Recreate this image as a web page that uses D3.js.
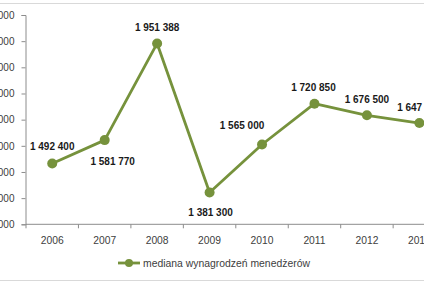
<!DOCTYPE html>
<html>
<head>
<meta charset="utf-8">
<script src="https://cdn.jsdelivr.net/npm/d3@7"></script>
<style>
  html, body { margin: 0; padding: 0; background: #fff; }
  svg { display: block; }
</style>
</head>
<body>
<svg id="chart" width="424" height="285"></svg>
<script>
// ---- data ----
const years = ["2006", "2007", "2008", "2009", "2010", "2011", "2012", "2013"];
const medianSalary = [1492400, 1581770, 1951388, 1381300, 1565000, 1720850, 1676500, 1647000];
const yTickValues = [1260000, 1360000, 1460000, 1560000, 1660000, 1760000, 1860000, 1960000, 2060000];
const seriesName = "mediana wynagrodzeń menedżerów";

// label placement (offsets of label centre relative to point)
const labelOffsets = [[0, -17], [8, 21], [0, -16], [1, 20], [-20, -19], [-1, -16], [0, -16], [0, -16]];

const svg = d3.select("#chart");
const W = 424, H = 285;
const color = "#76923C";
const axisColor = "#8c8c8c";

const plotLeft = 26, plotTop = 15, plotBottom = 224.3, bandW = 52.45;

const loc = d3.formatLocale({ decimal: ",", thousands: "\u00a0", grouping: [3], currency: ["", ""] });
const fmt = loc.format(",d");

const x = d3.scaleBand().domain(years).range([plotLeft, plotLeft + bandW * years.length]).paddingInner(0).paddingOuter(0);
const y = d3.scaleLinear().domain([d3.min(yTickValues), d3.max(yTickValues)]).range([plotBottom, plotTop]);

// frame lines
svg.append("line").attr("x1", 0).attr("x2", W).attr("y1", 3.5).attr("y2", 3.5).attr("stroke", "#d9d9d9");
svg.append("line").attr("x1", 0).attr("x2", W).attr("y1", 280.5).attr("y2", 280.5).attr("stroke", "#d9d9d9");

// y axis
const yAxis = svg.append("g").attr("transform", `translate(${plotLeft - 0.5},0)`)
  .call(d3.axisLeft(y).tickValues(yTickValues).tickSize(4).tickPadding(7).tickFormat(fmt));
yAxis.select(".domain").attr("stroke", axisColor);
yAxis.selectAll(".tick line").attr("stroke", axisColor);
yAxis.selectAll("text").attr("fill", "#404040").style("font-family", "Liberation Sans, Arial, sans-serif").style("font-size", "10px");

// x axis
const xAxis = svg.append("g").attr("transform", `translate(0,${plotBottom})`);
xAxis.append("line").attr("x1", plotLeft).attr("x2", x.range()[1]).attr("y1", 0).attr("y2", 0).attr("stroke", axisColor);
xAxis.selectAll("line.tk").data(years.concat(["end"])).enter().append("line")
  .attr("class", "tk")
  .attr("x1", (d, i) => plotLeft + x.step() * i)
  .attr("x2", (d, i) => plotLeft + x.step() * i)
  .attr("y1", 0).attr("y2", 4).attr("stroke", axisColor);
xAxis.selectAll("text").data(years).enter().append("text")
  .attr("x", d => x(d) + x.bandwidth() / 2)
  .attr("y", 19.5)
  .attr("text-anchor", "middle")
  .attr("fill", "#404040")
  .style("font-family", "Liberation Sans, Arial, sans-serif")
  .style("font-size", "10.3px")
  .text(d => d);

// line
const pts = years.map((yr, i) => ({ yr, v: medianSalary[i], i }));
const line = d3.line().x(d => x(d.yr) + x.bandwidth() / 2).y(d => y(d.v));
svg.append("path").datum(pts).attr("d", line).attr("fill", "none").attr("stroke", color).attr("stroke-width", 2.8).attr("stroke-linejoin", "round");

svg.selectAll("circle.pt").data(pts).enter().append("circle")
  .attr("class", "pt")
  .attr("cx", d => x(d.yr) + x.bandwidth() / 2)
  .attr("cy", d => y(d.v))
  .attr("r", 5)
  .attr("fill", color);

// data labels
svg.selectAll("text.lbl").data(pts).enter().append("text")
  .attr("class", "lbl")
  .attr("x", d => x(d.yr) + x.bandwidth() / 2 + labelOffsets[d.i][0])
  .attr("y", d => y(d.v) + labelOffsets[d.i][1] + 3.6)
  .attr("text-anchor", "middle")
  .attr("fill", "#1a1a1a")
  .style("font-family", "Liberation Sans, Arial, sans-serif")
  .style("font-size", "10px")
  .style("font-weight", "bold")
  .text(d => fmt(d.v));

// legend
const lg = svg.append("g").attr("transform", "translate(0,263)");
lg.append("line").attr("x1", 118).attr("x2", 140).attr("y1", 0).attr("y2", 0).attr("stroke", color).attr("stroke-width", 2.8);
lg.append("circle").attr("cx", 129).attr("cy", 0).attr("r", 4).attr("fill", color);
lg.append("text").attr("x", 143).attr("y", 3.5)
  .attr("fill", "#404040")
  .style("font-family", "Liberation Sans, Arial, sans-serif")
  .style("font-size", "10.4px")
  .text(seriesName);
</script>
</body>
</html>
